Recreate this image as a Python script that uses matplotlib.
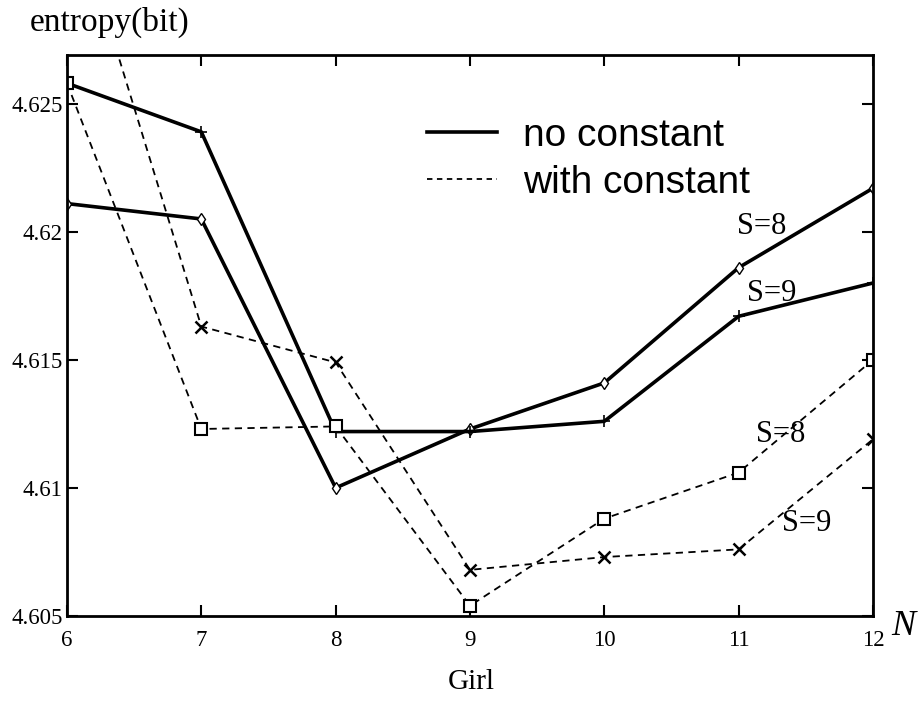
import matplotlib
matplotlib.use('Agg')
import matplotlib.pyplot as plt
from matplotlib.lines import Line2D

# --- data ---
N = [6, 7, 8, 9, 10, 11, 12]
# no constant
solid_s8 = [4.6211, 4.6205, 4.6100, 4.6123, 4.6141, 4.6186, 4.6217]
solid_s9 = [4.6258, 4.6239, 4.6122, 4.6122, 4.6126, 4.6167, 4.6180]
# with constant
dash_s8 = [4.6258, 4.6123, 4.6124, 4.6054, 4.6088, 4.6106, 4.6150]
dash_s9 = [4.6334, 4.6163, 4.6149, 4.6068, 4.6073, 4.6076, 4.6119]

y_ticks = [4.605, 4.61, 4.615, 4.62, 4.625]
y_tick_labels = ['4.605', '4.61', '4.615', '4.62', '4.625']

SERIF = 'Liberation Serif'
SANS = 'Liberation Sans'
DASH = (0, (4, 3))

fig = plt.figure(figsize=(9.2, 7.01), dpi=100)
ax = fig.add_axes([0.0728, 0.1213, 0.8761, 0.8002])

ax.plot(N, solid_s8, color='black', linewidth=2.6, marker='d', markersize=6,
        markerfacecolor='white', markeredgewidth=1.0)
ax.plot(N, solid_s9, color='black', linewidth=2.6, marker='+', markersize=8,
        markeredgewidth=1.2)
ax.plot(N, dash_s8, color='black', linewidth=1.3, linestyle=DASH, marker='s',
        markersize=8, markerfacecolor='white', markeredgewidth=1.5)
ax.plot(N, dash_s9, color='black', linewidth=1.3, linestyle=DASH, marker='x',
        markersize=9, markeredgewidth=1.8)

ax.set_xlim(6, 12)
ax.set_ylim(4.605, 4.6269)
ax.set_xticks(N)
ax.set_xticklabels([str(n) for n in N], fontfamily=SERIF, fontsize=16.5)
ax.set_yticks(y_ticks)
ax.set_yticklabels(y_tick_labels, fontfamily=SERIF, fontsize=16.5)
ax.tick_params(direction='in', length=8, width=1.5, top=True, right=True)
ax.tick_params(axis='x', pad=10)
ax.tick_params(axis='y', pad=3)
for sp in ax.spines.values():
    sp.set_linewidth(2.0)

# axis labels
fig.text(0.032, 0.968, 'entropy(bit)', fontfamily=SERIF, fontsize=24, va='center', ha='left')
fig.text(0.512, 0.027, 'Girl', fontfamily=SERIF, fontsize=21, va='center', ha='center')
fig.text(0.9815, 0.106, 'N', fontfamily=SERIF, fontstyle='italic', fontsize=26, va='center', ha='center')

# curve labels
lbl = dict(fontfamily=SERIF, fontsize=22, ha='center', va='center')
ax.text(11.174, 4.6202, 'S=8', **lbl)
ax.text(11.248, 4.6176, 'S=9', **lbl)
ax.text(11.315, 4.6121, 'S=8', **lbl)
ax.text(11.509, 4.6086, 'S=9', **lbl)

handles = [Line2D([], [], color='black', linewidth=2.6),
           Line2D([], [], color='black', linewidth=1.3, linestyle=(0, (3, 2.5)))]
ax.legend(handles, ['no constant', 'with constant'], loc='upper left',
          bbox_to_anchor=(0.4467, 0.888), frameon=False, handlelength=1.8,
          handletextpad=0.67, borderpad=0, borderaxespad=0, labelspacing=0.28,
          prop={'family': SANS, 'size': 28})

fig.savefig('out.png', dpi=100)
